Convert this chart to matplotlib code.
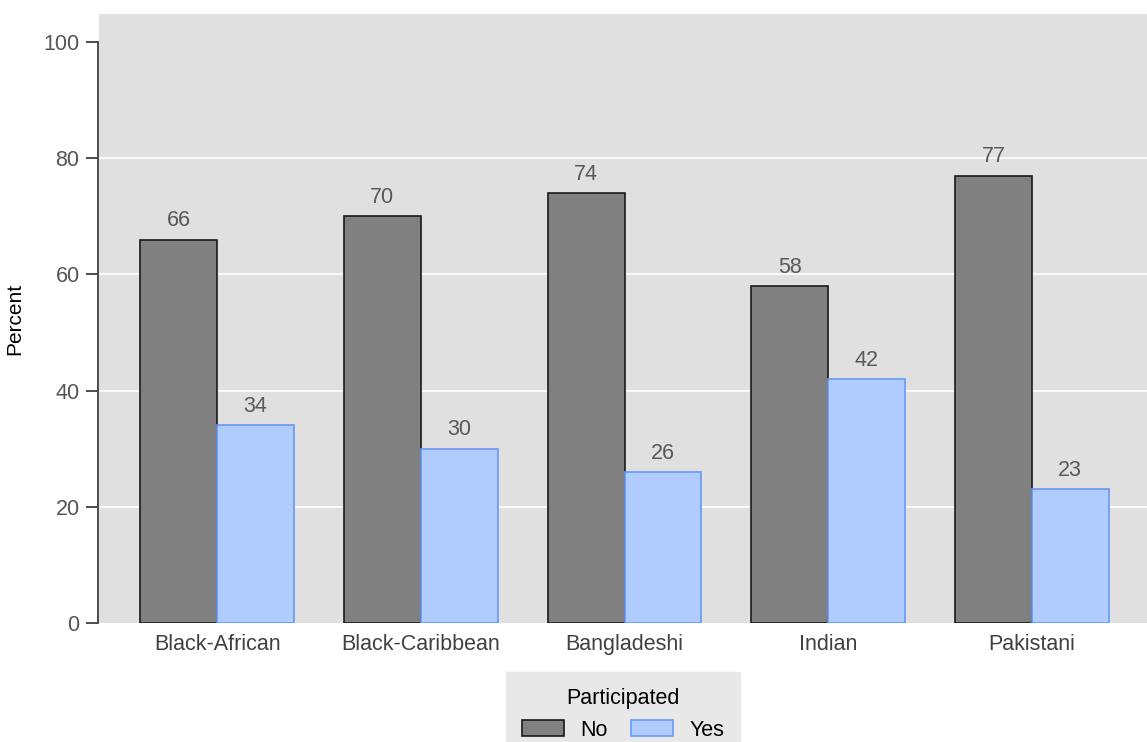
import numpy as np
import matplotlib
matplotlib.use("Agg")
import matplotlib.pyplot as plt

# veriler
groups = ["Black-African", "Black-Caribbean", "Bangladeshi", "Indian", "Pakistani"]
no_vals = [66, 70, 74, 58, 77]
yes_vals = [34, 30, 26, 42, 23]
series_names = ["No", "Yes"]

plt.rcParams["font.family"] = ["Liberation Sans", "DejaVu Sans"]

fig = plt.figure(figsize=(11.47, 7.42), dpi=100)
ax = fig.add_axes([0.0863, 0.1604, 0.9137, 0.8206])
ax.set_facecolor("#e0e0e0")

x = np.arange(len(groups))
w = 0.377

b1 = ax.bar(x - w / 2, no_vals, w, color="#808080", edgecolor="#1a1a1a",
            linewidth=1.2, label=series_names[0], zorder=3)
b2 = ax.bar(x + w / 2, yes_vals, w, color="#b0ccff", edgecolor="#6699f5",
            linewidth=1.2, label=series_names[1], zorder=3)

# bar etiketleri
for bars in (b1, b2):
    for r in bars:
        ax.annotate(f"{r.get_height():.0f}",
                    (r.get_x() + r.get_width() / 2, r.get_height()),
                    xytext=(0, 6), textcoords="offset points",
                    ha="center", va="bottom", fontsize=15.5, color="#595959")

ax.set_xlim(-0.58, 4.565)
ax.set_ylim(0, 104.8)
ax.set_yticks([0, 20, 40, 60, 80, 100])
for g in [20, 40, 60, 80]:
    ax.axhline(g, color="white", linewidth=1.2, zorder=1)

ax.set_xticks(x)
ax.set_xticklabels(groups)
ax.tick_params(axis="x", length=0, pad=8, labelsize=15.5, labelcolor="#404040")
ax.tick_params(axis="y", length=9, width=1.3, color="#404040", pad=4,
               labelsize=15.5, labelcolor="#555555")

for s in ["top", "right", "bottom"]:
    ax.spines[s].set_visible(False)
ax.spines["left"].set_color("#404040")
ax.spines["left"].set_linewidth(1.3)
ax.spines["left"].set_bounds(0, 100)
ax.spines["left"].set_position(("outward", 1))

ax.set_ylabel("Percent", fontsize=15, labelpad=14)

leg = ax.legend(title="Participated", loc="upper center",
                bbox_to_anchor=(0.5, -0.08), borderaxespad=0, ncol=2,
                frameon=True, fancybox=False, facecolor="#e8e8e8",
                edgecolor="#e8e8e8", framealpha=1, fontsize=15.5,
                title_fontsize=15.5, handlelength=1.95, handleheight=0.75,
                handletextpad=0.75, columnspacing=1.1, borderpad=0.75)

fig.savefig("out.png", dpi=100)
